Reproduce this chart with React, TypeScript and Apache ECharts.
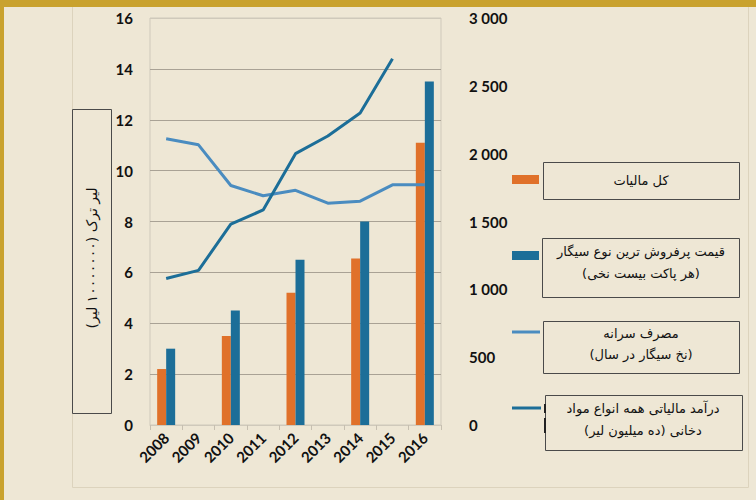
import React, { useEffect, useRef } from "react";
import * as echarts from "echarts";

const years = ["2008", "2009", "2010", "2011", "2012", "2013", "2014", "2015", "2016"];
const totalTax = [2.2, null, 3.5, null, 5.2, null, 6.55, null, 11.1];
const cigPrice = [3.0, null, 4.5, null, 6.5, null, 8.0, null, 13.5];
const consumption = [2110, 2065, 1765, 1690, 1730, 1635, 1650, 1770, 1770];
const taxRevenue = [1080, 1140, 1480, 1585, 2000, 2130, 2300, 2700, null];

const leftTitle = "لیر ترک (۱۰۰۰۰۰۰۰ لیر)";
const legTotalTax = ["کل مالیات"];
const legPrice = ["قیمت پرفروش ترین نوع سیگار", "(هر پاکت بیست نخی)"];
const legConsumption = ["مصرف سرانه", "(نخ سیگار در سال)"];
const legRevenue = ["درآمد مالیاتی همه انواع مواد", "دخانی (ده میلیون لیر)"];

const ORANGE = "#E0712A";
const BLUE = "#1C6E98";
const LIGHTBLUE = "#4A8CC0";
const BG = "#EEE7D5";
const GOLD = "#C9A22E";
const LABEL_FONT = "Lato";
const FA_FONT = "DejaVu Sans";

export default function App() {
  const ref = useRef<HTMLDivElement>(null);
  useEffect(() => {
    if (!ref.current) return;
    const chart = echarts.init(ref.current, null, { renderer: "svg" });

    const box = (x: number, y: number, w: number, h: number) => ({
      type: "rect",
      shape: { x, y, width: w, height: h },
      style: { fill: "none", stroke: "#4a4a4a", lineWidth: 1 },
      silent: true,
    });
    const txt = (s: string, x: number, y: number) => ({
      type: "text",
      x,
      y,
      style: {
        text: s,
        fill: "#111",
        font: `13px "${FA_FONT}"`,
        align: "center",
        verticalAlign: "middle",
      },
      silent: true,
    });

    const graphics: any[] = [
      { type: "rect", shape: { x: 0, y: 0, width: 756, height: 7 }, style: { fill: GOLD }, z: -10, silent: true },
      { type: "rect", shape: { x: 0, y: 0, width: 4, height: 500 }, style: { fill: GOLD }, z: -10, silent: true },
      {
        type: "polyline",
        shape: { points: [[72.5, 7], [72.5, 487.5], [748.5, 487.5], [748.5, 7]] },
        style: { stroke: "#DCD3BD", fill: "none", lineWidth: 1 },
        z: -9,
        silent: true,
      },
      // left axis title box
      box(72.5, 109.5, 39, 304),
      {
        type: "text",
        x: 92,
        y: 258,
        rotation: Math.PI / 2,
        style: {
          text: leftTitle,
          fill: "#111",
          font: `14px "${FA_FONT}"`,
          align: "center",
          verticalAlign: "middle",
        },
        silent: true,
      },
      // legend 1
      { type: "rect", shape: { x: 512, y: 175, width: 27, height: 9 }, style: { fill: ORANGE }, silent: true },
      box(543.5, 162.5, 196, 37),
      txt(legTotalTax[0], 641, 180),
      // legend 2
      { type: "rect", shape: { x: 512, y: 251, width: 27, height: 9 }, style: { fill: BLUE }, silent: true },
      box(542.5, 238.5, 197, 59),
      txt(legPrice[0], 641, 251),
      txt(legPrice[1], 641, 273),
      // legend 3
      { type: "line", shape: { x1: 512, y1: 332, x2: 540, y2: 332 }, style: { stroke: LIGHTBLUE, lineWidth: 3 }, silent: true },
      box(543.5, 321.5, 196, 52),
      txt(legConsumption[0], 641, 333),
      txt(legConsumption[1], 641, 354),
      // legend 4
      { type: "line", shape: { x1: 512, y1: 408, x2: 541, y2: 408 }, style: { stroke: BLUE, lineWidth: 3 }, silent: true },
      box(545.5, 395.5, 197, 55),
      { type: "line", shape: { x1: 545, y1: 404, x2: 545, y2: 413 }, style: { stroke: "#222", lineWidth: 2 }, silent: true },
      { type: "line", shape: { x1: 545, y1: 418, x2: 545, y2: 433 }, style: { stroke: "#222", lineWidth: 2 }, silent: true },
      txt(legRevenue[0], 643, 408),
      txt(legRevenue[1], 643, 430),
    ];

    const gridColors = ["#CFC9BB", "#A9A295", "#A9A295", "#A9A295", "#A9A295", "#A9A295", "#A9A295", "#A9A295", "#CFC9BB"];

    chart.setOption({
      animation: false,
      backgroundColor: BG,
      grid: {
        left: 150,
        right: 315,
        top: 18,
        bottom: 75,
        show: true,
        borderColor: "#CFC9BB",
        borderWidth: 1,
        backgroundColor: "transparent",
      },
      xAxis: {
        type: "category",
        data: years,
        boundaryGap: true,
        axisLine: { show: true, lineStyle: { color: "#CFC9BB" } },
        axisTick: { show: true, length: 5, lineStyle: { color: "#C6BFB0" } },
        axisLabel: {
          rotate: 45,
          margin: 10,
          color: "#111",
          fontFamily: LABEL_FONT,
          fontWeight: "bold",
          fontSize: 15,
        },
      },
      yAxis: [
        {
          type: "value",
          min: 0,
          max: 16,
          interval: 2,
          axisLine: { show: false },
          axisTick: { show: false },
          splitLine: { show: true, lineStyle: { color: gridColors, width: 1 } },
          axisLabel: {
            margin: 17,
            color: "#111",
            fontFamily: LABEL_FONT,
            fontWeight: "bold",
            fontSize: 15,
          },
        },
        {
          type: "value",
          min: 0,
          max: 3000,
          interval: 500,
          axisLine: { show: false },
          axisTick: { show: false },
          splitLine: { show: false },
          axisLabel: {
            margin: 28,
            color: "#111",
            fontFamily: LABEL_FONT,
            fontWeight: "bold",
            fontSize: 15,
            formatter: (v: number) => String(v).replace(/\B(?=(\d{3})+(?!\d))/g, " "),
          },
        },
      ],
      series: [
        {
          type: "bar",
          data: totalTax,
          barWidth: 9,
          barGap: "0%",
          itemStyle: { color: ORANGE },
          yAxisIndex: 0,
        },
        {
          type: "bar",
          data: cigPrice,
          barWidth: 9,
          barGap: "0%",
          itemStyle: { color: BLUE },
          yAxisIndex: 0,
        },
        {
          type: "line",
          data: consumption,
          yAxisIndex: 1,
          symbol: "none",
          lineStyle: { color: LIGHTBLUE, width: 3 },
          z: 3,
        },
        {
          type: "line",
          data: taxRevenue,
          yAxisIndex: 1,
          symbol: "none",
          connectNulls: false,
          lineStyle: { color: BLUE, width: 3 },
          z: 4,
        },
      ],
      graphic: graphics,
    });

    return () => chart.dispose();
  }, []);

  return (
    <div
      ref={ref}
      style={{ position: "fixed", left: 0, top: 0, width: 756, height: 500 }}
    />
  );
}
